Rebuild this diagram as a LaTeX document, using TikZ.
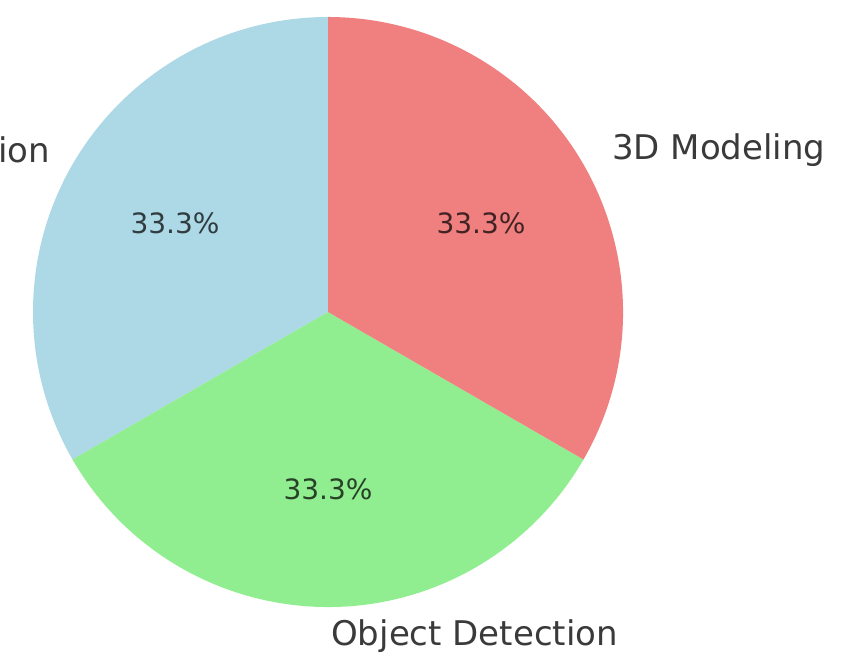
\documentclass[tikz,border=0pt]{standalone}
\usepackage{fontspec}
\setmainfont{DejaVu Sans}
\definecolor{pieblue}{HTML}{ADD8E6}
\definecolor{piered}{HTML}{F08080}
\definecolor{piegreen}{HTML}{90EE90}
\definecolor{labelgray}{HTML}{3A3A3A}
\tikzset{
  catlabel/.style={inner sep=0pt, text=labelgray, font=\fontsize{34}{40}\selectfont},
  pctlabel/.style={inner sep=0pt, text=black, text opacity=0.72, font=\fontsize{28}{34}\selectfont},
}
\begin{document}
\begin{tikzpicture}[x=1pt,y=1pt]
  \useasboundingbox (0,0) rectangle (842,664);
  \coordinate (o) at (328,352);
  \def\R{295}
  % three equal wedges, counter-clockwise from the top
  \fill[pieblue]  (o) -- ++(90:\R)  arc[start angle=90,  end angle=210, radius=\R] -- cycle;
  \fill[piegreen] (o) -- ++(210:\R) arc[start angle=210, end angle=330, radius=\R] -- cycle;
  \fill[piered]   (o) -- ++(330:\R) arc[start angle=330, end angle=450, radius=\R] -- cycle;
  % category labels
  \node[catlabel, anchor=east] (lseg) at (50,514) {ion};
  \node[catlabel, anchor=west] (lmod) at (612,514) {3D Modeling};
  \node[catlabel, anchor=west] (ldet) at (331,28) {Object Detection};
  % percentages
  \node[pctlabel] (pseg) at (175,440.5) {33.3\%};
  \node[pctlabel] (pmod) at (481,440.5) {33.3\%};
  \node[pctlabel] (pdet) at (328,175) {33.3\%};
\end{tikzpicture}
\end{document}
